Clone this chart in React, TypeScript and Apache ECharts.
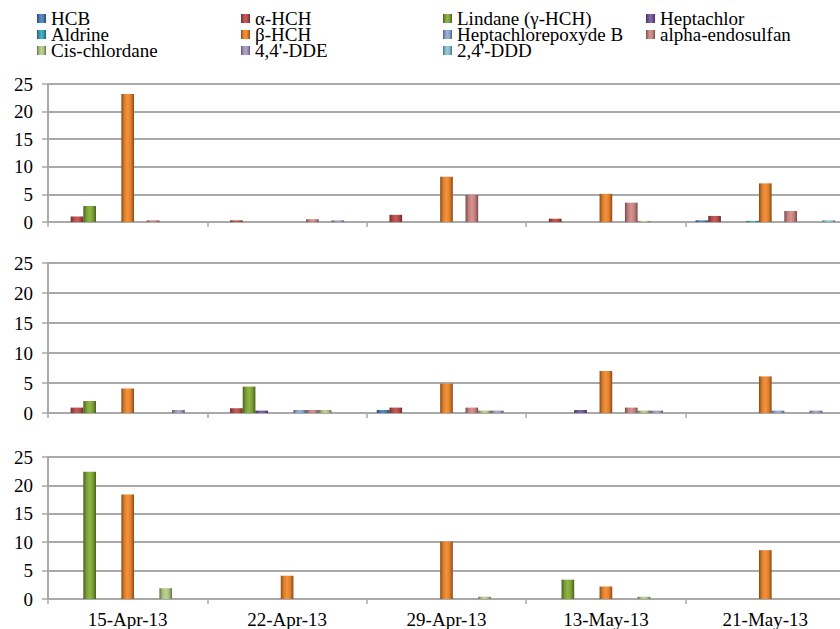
import React, { useEffect, useRef } from 'react';
import * as echarts from 'echarts';

const dates = ['15-Apr-13', '22-Apr-13', '29-Apr-13', '13-May-13', '21-May-13'];
const compounds = [
  'HCB', 'α-HCH', 'Lindane (γ-HCH)', 'Heptachlor', 'Aldrine', 'β-HCH',
  'Heptachlorepoxyde B', 'alpha-endosulfan', 'Cis-chlordane', "4,4'-DDE", "2,4'-DDD",
];
const palette = [
  '#4F81BD', '#C0504D', '#86AD38', '#7A5BA0', '#3FA6C2', '#F28A2E',
  '#8FAED6', '#D28A89', '#B7CE8A', '#AE9CC8', '#8CC8DA',
];
const yTicks = [0, 5, 10, 15, 20, 25];

const _ = null;
// rows follow the compounds order; columns follow dates
const topPanel: (number | null)[][] = [
  [_, _, _, _, 0.3],
  [1.0, 0.3, 1.3, 0.6, 1.1],
  [2.9, _, _, _, _],
  [_, _, _, _, _],
  [_, _, _, _, 0.2],
  [23.2, _, 8.2, 5.1, 7.0],
  [_, _, _, _, _],
  [0.3, 0.5, 4.9, 3.5, 2.0],
  [_, _, _, 0.2, _],
  [_, 0.3, _, _, _],
  [_, _, _, _, 0.3],
];
const middlePanel: (number | null)[][] = [
  [_, _, 0.5, _, _],
  [0.9, 0.8, 0.9, _, _],
  [2.0, 4.4, _, _, _],
  [_, 0.4, _, 0.5, _],
  [_, _, _, _, _],
  [4.1, _, 4.9, 7.0, 6.1],
  [_, 0.5, _, _, 0.4],
  [_, 0.5, 0.9, 0.9, _],
  [_, 0.5, 0.4, 0.4, _],
  [0.5, _, 0.4, 0.4, 0.4],
  [_, _, _, _, _],
];
const bottomPanel: (number | null)[][] = [
  [_, _, _, _, _],
  [_, _, _, _, _],
  [22.4, _, _, 3.4, _],
  [_, _, _, _, _],
  [_, _, _, _, _],
  [18.4, 4.1, 10.1, 2.2, 8.6],
  [_, _, _, _, _],
  [_, _, _, _, _],
  [1.9, _, 0.4, 0.4, _],
  [_, _, _, _, _],
  [_, _, _, _, _],
];
const legendColumns = [
  ['HCB', 'Aldrine', 'Cis-chlordane'],
  ['α-HCH', 'β-HCH', "4,4'-DDE"],
  ['Lindane (γ-HCH)', 'Heptachlorepoxyde B', "2,4'-DDD"],
  ['Heptachlor', 'alpha-endosulfan'],
];

const FONT = 'Liberation Serif';

function shade(hex: string, f: number) {
  const n = parseInt(hex.slice(1), 16);
  let r = (n >> 16) & 255, g = (n >> 8) & 255, b = n & 255;
  if (f < 0) {
    r = Math.round(r * (1 + f)); g = Math.round(g * (1 + f)); b = Math.round(b * (1 + f));
  } else {
    r = Math.round(r + (255 - r) * f); g = Math.round(g + (255 - g) * f); b = Math.round(b + (255 - b) * f);
  }
  return `rgb(${r},${g},${b})`;
}

function barFill(c: string) {
  return new echarts.graphic.LinearGradient(0, 0, 1, 0, [
    { offset: 0, color: shade(c, -0.45) },
    { offset: 0.25, color: shade(c, -0.08) },
    { offset: 0.5, color: shade(c, 0.08) },
    { offset: 0.75, color: shade(c, -0.08) },
    { offset: 1, color: shade(c, -0.45) },
  ]);
}

export default function App() {
  const ref = useRef<HTMLDivElement>(null);
  useEffect(() => {
    if (!ref.current) return;
    const chart = echarts.init(ref.current, undefined, { renderer: 'svg' });
    const panels = [topPanel, middlePanel, bottomPanel];
    const grids = [
      { left: 48, top: 84, width: 797, height: 138 },
      { left: 48, top: 263, width: 797, height: 150 },
      { left: 48, top: 457, width: 797, height: 143 },
    ];
    const axisColor = '#a9a9a9';
    const xAxes = grids.map((_g, i) => ({
      type: 'category',
      gridIndex: i,
      data: dates,
      axisLine: { show: true, lineStyle: { color: axisColor, width: 2 } },
      axisTick: { show: true, length: 5, lineStyle: { color: axisColor, width: 1.5 } },
      axisLabel: {
        show: i === 2,
        fontFamily: FONT,
        fontSize: 19,
        color: '#000',
        margin: 11,
      },
    }));
    const yAxes = grids.map((_g, i) => ({
      type: 'value',
      gridIndex: i,
      min: yTicks[0],
      max: yTicks[yTicks.length - 1],
      interval: 5,
      axisLine: { show: true, lineStyle: { color: axisColor, width: 2 } },
      axisTick: { show: true, length: 6, lineStyle: { color: axisColor, width: 1.5 } },
      splitLine: { show: true, lineStyle: { color: axisColor, width: 2 } },
      axisLabel: { fontFamily: FONT, fontSize: 19, color: '#000', margin: 15 },
    }));
    const series: any[] = [];
    panels.forEach((panel, pi) => {
      compounds.forEach((name, ci) => {
        series.push({
          type: 'bar',
          name,
          xAxisIndex: pi,
          yAxisIndex: pi,
          data: panel[ci],
          barGap: '0%',
          barCategoryGap: '12.5%',
          itemStyle: { color: barFill(palette[ci]) },
        });
      });
    });
    const legendLefts = [37, 241, 443, 646];
    const legends = legendColumns.map((col, i) => ({
      orient: 'vertical',
      left: legendLefts[i],
      top: 9,
      data: col,
      itemWidth: 9,
      itemHeight: 9,
      itemGap: -3,
      padding: 0,
      selectedMode: false,
      icon: 'rect',
      textStyle: { fontFamily: FONT, fontSize: 19, color: '#000' },
    }));
    chart.setOption({
      animation: false,
      backgroundColor: '#fff',
      textStyle: { fontFamily: FONT },
      legend: legends,
      grid: grids,
      xAxis: xAxes,
      yAxis: yAxes,
      series,
    });
    return () => chart.dispose();
  }, []);
  return (
    <div style={{ position: 'fixed', left: 0, top: 0, width: 840, height: 629, overflow: 'hidden', background: '#fff' }}>
      <div ref={ref} style={{ width: 850, height: 629 }} />
    </div>
  );
}
